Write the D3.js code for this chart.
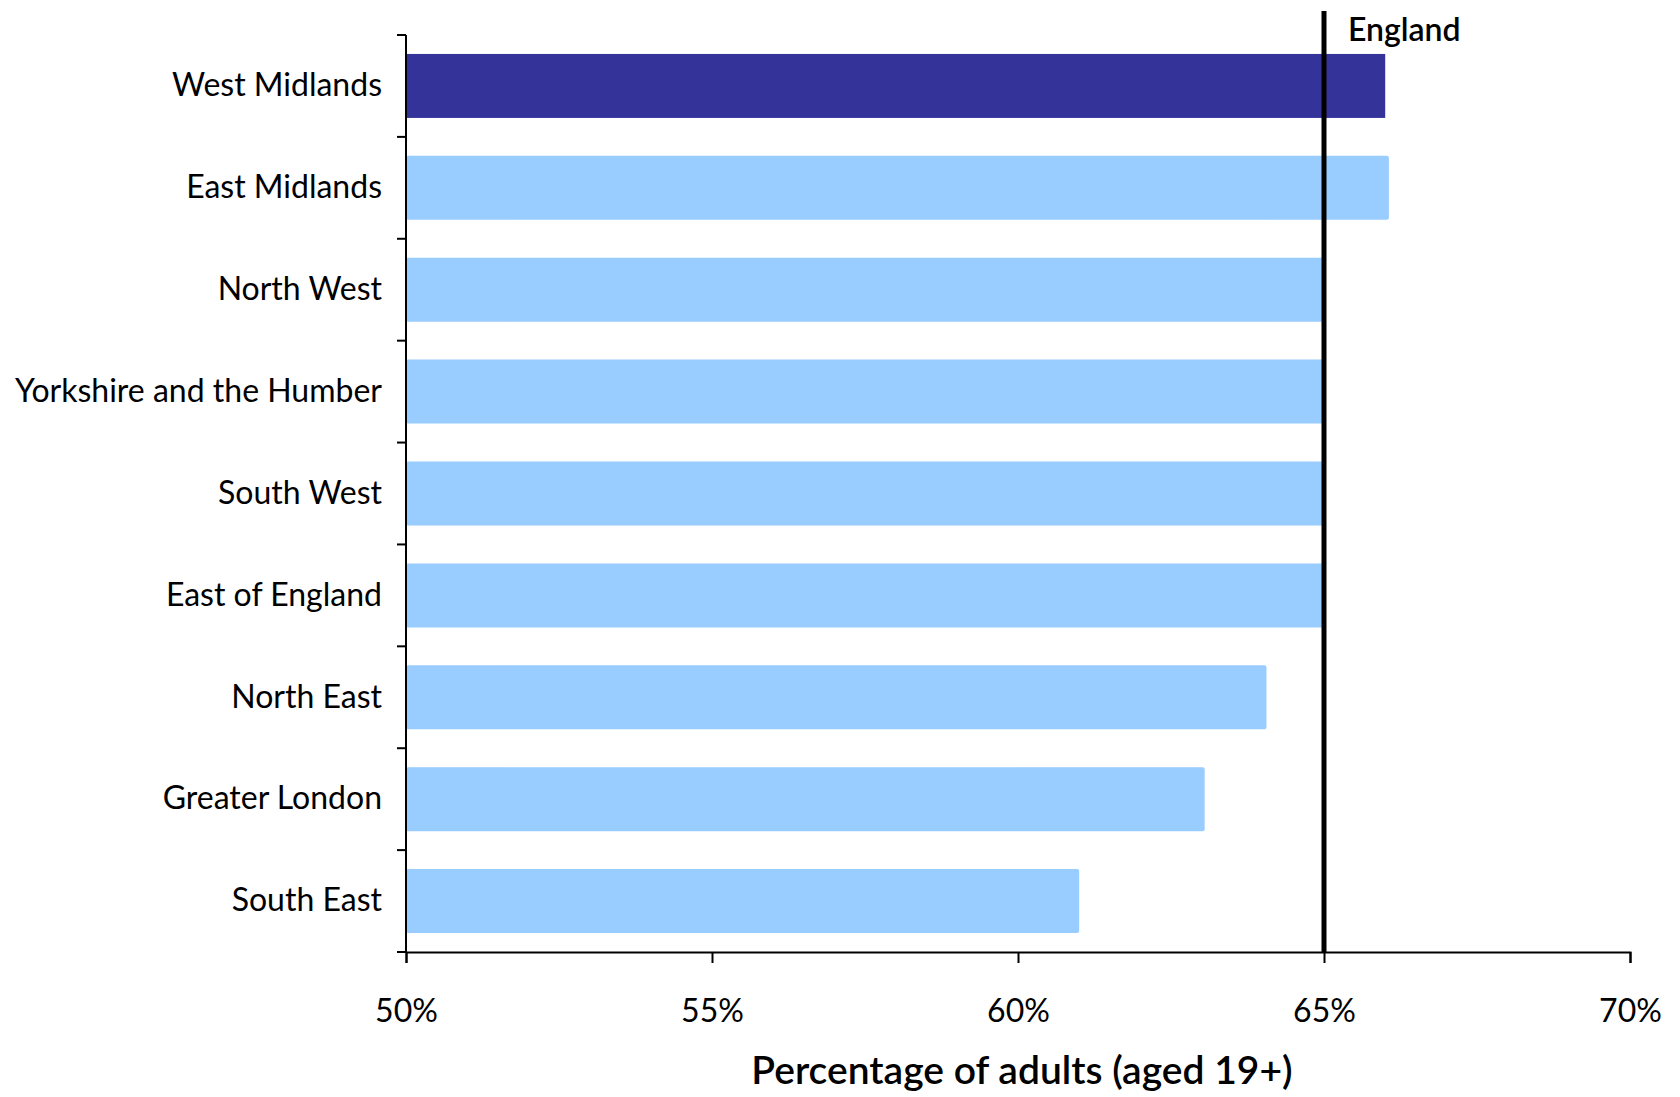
<!DOCTYPE html>
<html>
<head>
<meta charset="utf-8">
<script src="https://cdn.jsdelivr.net/npm/d3@7"></script>
<style>
  html, body { margin: 0; padding: 0; background: #fff; }
  svg { display: block; }
  text { font-family: Lato, "Noto Sans", sans-serif; fill: #000; }
</style>
</head>
<body>
<svg id="chart" width="1680" height="1097"></svg>
<script>
const categories = ["West Midlands","East Midlands","North West","Yorkshire and the Humber","South West","East of England","North East","Greater London","South East"];
const values = [66.0, 66.06, 65.0, 65.0, 65.0, 65.0, 64.06, 63.05, 61.0];
const highlight = ["West Midlands"];
const xTicks = [50, 55, 60, 65, 70];
const englandValue = 65;
const englandLabel = "England";
const xTitle = "Percentage of adults (aged 19+)";

(function () {
const svg = d3.select("#chart");
const mLeft = 406, mRight = 1630, mTop = 35, mBottom = 952;
const fontFam = "Lato, 'Noto Sans', sans-serif";

const x = d3.scaleLinear().domain([50, 70]).range([mLeft, mRight]);
const pad = 0.372;
const y = d3.scaleBand().domain(categories).range([mTop, mBottom]).paddingInner(pad).paddingOuter(pad / 2);

// bars
svg.append("g").selectAll("rect").data(categories).join("rect")
  .attr("x", x(50))
  .attr("y", d => y(d))
  .attr("height", y.bandwidth())
  .attr("width", (d, i) => x(values[i]) - x(50))
  .attr("rx", d => highlight.includes(d) ? 0 : 2)
  .attr("fill", d => highlight.includes(d) ? "#333399" : "#99CCFF");

// x axis
const xAxis = d3.axisBottom(x).tickValues(xTicks).tickFormat(d => d + "%").tickSize(11).tickPadding(36);
const gx = svg.append("g").attr("transform", `translate(0,${mBottom})`).call(xAxis);
gx.select(".domain").attr("stroke", "#000").attr("stroke-width", 2);
gx.selectAll(".tick line").attr("stroke", "#000").attr("stroke-width", 2);
gx.selectAll(".tick text").attr("font-size", 32).attr("font-family", fontFam).attr("fill", "#000");

// y axis labels
const yAxis = d3.axisLeft(y).tickSize(0).tickPadding(24);
const gy = svg.append("g").attr("transform", `translate(${mLeft},0)`).call(yAxis);
gy.select(".domain").remove();
gy.selectAll(".tick text").attr("font-size", 32).attr("font-family", fontFam).attr("fill", "#000");

// y axis line and boundary ticks
svg.append("line").attr("x1", mLeft).attr("x2", mLeft).attr("y1", mTop).attr("y2", mBottom)
  .attr("stroke", "#000").attr("stroke-width", 2);
const step = y.step();
const boundaries = categories.map(c => y(c) - step * pad / 2).concat([mBottom]);
svg.append("g").selectAll("line").data(boundaries).join("line")
  .attr("x1", mLeft - 9).attr("x2", mLeft).attr("y1", d => d).attr("y2", d => d)
  .attr("stroke", "#000").attr("stroke-width", 2);

// England reference line
svg.append("line").attr("x1", x(englandValue)).attr("x2", x(englandValue))
  .attr("y1", 11).attr("y2", mBottom).attr("stroke", "#000").attr("stroke-width", 5);
svg.append("text").attr("x", x(englandValue) + 24).attr("y", 41)
  .attr("font-size", 32).attr("font-weight", 600).text(englandLabel);

// x title
svg.append("text").attr("x", (mLeft + mRight) / 2 + 4).attr("y", 1084)
  .attr("text-anchor", "middle").attr("font-size", 39).attr("font-weight", 600).text(xTitle);
})();
</script>
</body>
</html>
